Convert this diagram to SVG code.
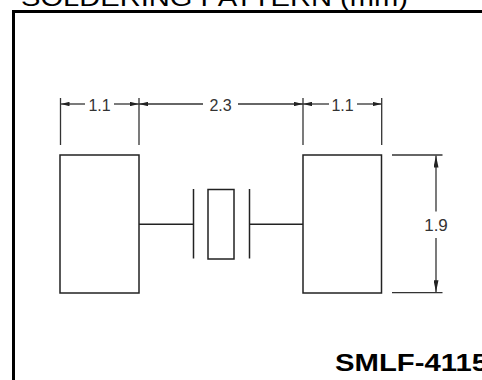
<svg xmlns="http://www.w3.org/2000/svg" width="482" height="380" viewBox="0 0 482 380">
<style>
  .frame{fill:none;stroke:#000;stroke-width:3}
  .pad{fill:#fff;stroke:#222;stroke-width:1.5}
  .part{fill:none;stroke:#222;stroke-width:1.5}
  .lead{fill:none;stroke:#222;stroke-width:1.4}
  .dim{fill:none;stroke:#333;stroke-width:1.3}
  .dimh{marker-end:url(#arrH)}
  .dimv{marker-end:url(#arrV)}
  .dt{font-family:"Liberation Sans",Arial,sans-serif;font-size:16px;fill:#333;text-anchor:middle}
  .title{font-family:"Liberation Sans",Arial,sans-serif;font-size:24px;fill:#000}
  .code{font-family:"Liberation Sans",Arial,sans-serif;font-size:24px;font-weight:bold;fill:#000}
</style>
<defs>
  <marker id="arrH" viewBox="0 0 9 4.4" refX="9" refY="2.2" markerWidth="9" markerHeight="4.4" markerUnits="userSpaceOnUse" orient="auto">
    <path d="M0,0 L9,2.2 L0,4.4 z" fill="#222"/>
  </marker>
  <marker id="arrV" viewBox="0 0 12 5" refX="12" refY="2.5" markerWidth="12" markerHeight="5" markerUnits="userSpaceOnUse" orient="auto">
    <path d="M0,0 L12,2.5 L0,5 z" fill="#222"/>
  </marker>
</defs>
<rect width="482" height="380" fill="#fff"/>
<text class="title" x="21" y="5.5" textLength="387" lengthAdjust="spacingAndGlyphs">SOLDERING PATTERN (mm)</text>
<path class="frame" d="M13.5,400 V11.5 H500"/>

<g id="pad-left"><rect class="pad" x="60" y="155" width="79" height="138"/></g>
<g id="pad-right"><rect class="pad" x="303" y="155" width="78.5" height="138"/></g>
<g id="component">
  <line class="part" x1="193.5" y1="189" x2="193.5" y2="258.5"/>
  <rect class="part" x="208" y="189.5" width="26" height="69.5"/>
  <line class="part" x1="249.5" y1="189" x2="249.5" y2="258.5"/>
</g>

<g id="connectors">
  <line class="lead" x1="139" y1="224.3" x2="193.5" y2="224.3"/>
  <line class="lead" x1="249.5" y1="224.3" x2="303" y2="224.3"/>
</g>

<g id="dimensions">
  <line class="dim" x1="60.5" y1="98" x2="60.5" y2="145"/>
  <line class="dim" x1="139" y1="98" x2="139" y2="145"/>
  <line class="dim" x1="303" y1="98" x2="303" y2="145"/>
  <line class="dim" x1="381.7" y1="98" x2="381.7" y2="145"/>

  <line class="dim dimh" x1="85" y1="104" x2="60.5" y2="104"/>
  <line class="dim dimh" x1="114" y1="104" x2="139" y2="104"/>
  <text class="dt" x="99.5" y="110.5">1.1</text>

  <line class="dim dimh" x1="203" y1="104" x2="139" y2="104"/>
  <line class="dim dimh" x1="238" y1="104" x2="303" y2="104"/>
  <text class="dt" x="220.5" y="110.5">2.3</text>

  <line class="dim dimh" x1="329" y1="104" x2="303" y2="104"/>
  <line class="dim dimh" x1="357" y1="104" x2="381.7" y2="104"/>
  <text class="dt" x="342.5" y="110.5">1.1</text>

  <line class="dim" x1="392" y1="155" x2="442.5" y2="155"/>
  <line class="dim" x1="392" y1="292.7" x2="442.5" y2="292.7"/>
  <line class="dim dimv" x1="436" y1="211.5" x2="436" y2="155.5"/>
  <line class="dim dimv" x1="436" y1="238" x2="436" y2="292.2"/>
  <text class="dt" x="436" y="231" style="font-size:17px">1.9</text>
</g>

<text class="code" x="335" y="370.7" textLength="153" lengthAdjust="spacingAndGlyphs">SMLF-4115</text>
</svg>
